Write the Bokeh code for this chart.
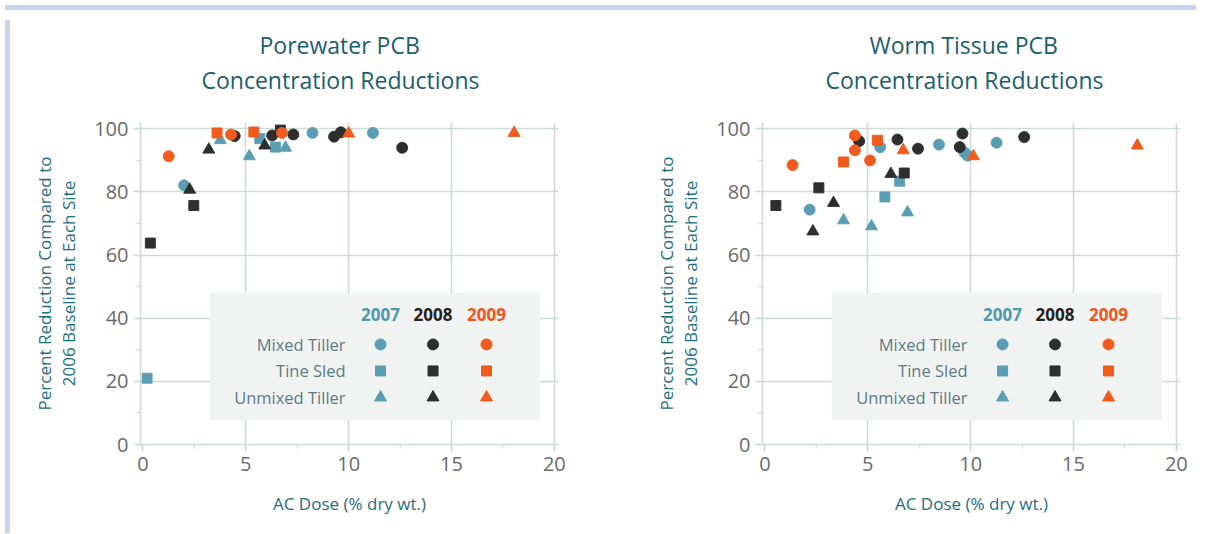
from bokeh.plotting import figure
from bokeh.layouts import row, column
from bokeh.models import Div, Title, SingleIntervalTicker, FixedTicker, ColumnDataSource
from bokeh.core.properties import value
from bokeh.embed import file_html
from bokeh.resources import INLINE

# ---------------- data ----------------
years = ["2007", "2008", "2009"]
methods = ["Mixed Tiller", "Tine Sled", "Unmixed Tiller"]
x_ticks = [0, 5, 10, 15, 20]
y_ticks = [0, 20, 40, 60, 80, 100]

# Porewater PCB: (AC dose, % reduction)
pw_2007_mixed_x = [2.0, 8.24, 11.18]
pw_2007_mixed_y = [82.1, 98.7, 98.7]
pw_2007_tine_x = [0.2, 5.68, 6.44]
pw_2007_tine_y = [21.0, 96.9, 94.2]
pw_2007_unmixed_x = [3.76, 5.17, 6.93]
pw_2007_unmixed_y = [96.4, 91.3, 94.0]
pw_2008_mixed_x = [4.46, 6.28, 7.31, 9.29, 9.62, 12.6]
pw_2008_mixed_y = [97.7, 97.9, 98.2, 97.5, 98.9, 94.0]
pw_2008_tine_x = [0.36, 2.47, 6.68]
pw_2008_tine_y = [63.8, 75.7, 99.6]
pw_2008_unmixed_x = [2.27, 3.2, 5.92]
pw_2008_unmixed_y = [80.7, 93.4, 94.7]
pw_2009_mixed_x = [1.25, 4.28, 6.76]
pw_2009_mixed_y = [91.3, 98.2, 98.7]
pw_2009_tine_x = [3.6, 5.39]
pw_2009_tine_y = [98.7, 99.0]
pw_2009_unmixed_x = [10.0, 18.04]
pw_2009_unmixed_y = [98.5, 98.7]

# Worm tissue PCB
wt_2007_mixed_x = [2.17, 5.6, 8.46, 9.7, 9.85, 11.26]
wt_2007_mixed_y = [74.4, 94.2, 95.0, 92.5, 91.5, 95.6]
wt_2007_tine_x = [5.83, 6.55]
wt_2007_tine_y = [78.4, 83.4]
wt_2007_unmixed_x = [3.82, 5.18, 6.93]
wt_2007_unmixed_y = [71.0, 69.1, 73.5]
wt_2008_mixed_x = [4.58, 6.44, 7.44, 9.47, 9.6, 12.6]
wt_2008_mixed_y = [96.1, 96.6, 93.7, 94.2, 98.5, 97.4]
wt_2008_tine_x = [0.53, 2.62, 6.77]
wt_2008_tine_y = [75.7, 81.3, 86.0]
wt_2008_unmixed_x = [2.33, 3.33, 6.12]
wt_2008_unmixed_y = [67.5, 76.5, 85.7]
wt_2009_mixed_x = [1.34, 4.37, 4.37, 5.11]
wt_2009_mixed_y = [88.5, 97.9, 93.2, 90.0]
wt_2009_tine_x = [3.82, 5.47]
wt_2009_tine_y = [89.5, 96.4]
wt_2009_unmixed_x = [6.72, 10.13, 18.1]
wt_2009_unmixed_y = [93.2, 91.3, 94.7]

porewater = {
    ("2007", "Mixed Tiller"): (pw_2007_mixed_x, pw_2007_mixed_y),
    ("2007", "Tine Sled"): (pw_2007_tine_x, pw_2007_tine_y),
    ("2007", "Unmixed Tiller"): (pw_2007_unmixed_x, pw_2007_unmixed_y),
    ("2008", "Mixed Tiller"): (pw_2008_mixed_x, pw_2008_mixed_y),
    ("2008", "Tine Sled"): (pw_2008_tine_x, pw_2008_tine_y),
    ("2008", "Unmixed Tiller"): (pw_2008_unmixed_x, pw_2008_unmixed_y),
    ("2009", "Mixed Tiller"): (pw_2009_mixed_x, pw_2009_mixed_y),
    ("2009", "Tine Sled"): (pw_2009_tine_x, pw_2009_tine_y),
    ("2009", "Unmixed Tiller"): (pw_2009_unmixed_x, pw_2009_unmixed_y),
}
worm = {
    ("2007", "Mixed Tiller"): (wt_2007_mixed_x, wt_2007_mixed_y),
    ("2007", "Tine Sled"): (wt_2007_tine_x, wt_2007_tine_y),
    ("2007", "Unmixed Tiller"): (wt_2007_unmixed_x, wt_2007_unmixed_y),
    ("2008", "Mixed Tiller"): (wt_2008_mixed_x, wt_2008_mixed_y),
    ("2008", "Tine Sled"): (wt_2008_tine_x, wt_2008_tine_y),
    ("2008", "Unmixed Tiller"): (wt_2008_unmixed_x, wt_2008_unmixed_y),
    ("2009", "Mixed Tiller"): (wt_2009_mixed_x, wt_2009_mixed_y),
    ("2009", "Tine Sled"): (wt_2009_tine_x, wt_2009_tine_y),
    ("2009", "Unmixed Tiller"): (wt_2009_unmixed_x, wt_2009_unmixed_y),
}

# ---------------- styles ----------------
FONT = "Open Sans"
YEAR_COLORS = {"2007": "#5a9db2", "2008": "#2e2e2e", "2009": "#f25a1e"}
YEAR_HEAD_COLORS = {"2007": "#4f98ae", "2008": "#222222", "2009": "#f0561c"}
MARKERS = {"Mixed Tiller": "circle", "Tine Sled": "square", "Unmixed Tiller": "triangle"}
SIZES = {"Mixed Tiller": 11, "Tine Sled": 10, "Unmixed Tiller": 12}
GRID = "#cddbd7"
TITLE_C = "#1b5e6f"
AXLAB_C = "#1e6e80"
TICK_C = "#6a6a6a"
LEG_TXT = "#5d7b82"
LEG_BG = "#f1f3f2"
BAND = "#c6d5ec"


def make_plot(title_lines, title_offsets, data, mb_left, mb_right):
    p = figure(
        x_range=(-0.12, 20.2), y_range=(0, 102),
        frame_width=418, frame_height=322,
        min_border_left=mb_left, min_border_right=mb_right,
        min_border_top=107, min_border_bottom=84,
        output_backend="svg", toolbar_location=None,
        background_fill_color="white", border_fill_color="white",
        outline_line_color=None,
    )
    p.xaxis.ticker = SingleIntervalTicker(interval=5, num_minor_ticks=2)
    p.yaxis.ticker = SingleIntervalTicker(interval=20, num_minor_ticks=2)
    p.xgrid.ticker = FixedTicker(ticks=x_ticks[1:])
    p.ygrid.ticker = FixedTicker(ticks=y_ticks[1:])
    for g in (p.xgrid, p.ygrid):
        g.grid_line_color = GRID
        g.grid_line_width = 1.6
    for ax in (p.xaxis, p.yaxis):
        ax.axis_line_color = GRID
        ax.axis_line_width = 1.6
        ax.major_tick_line_color = GRID
        ax.major_tick_line_width = 1.6
        ax.minor_tick_line_color = GRID
        ax.minor_tick_line_width = 1.4
        ax.major_tick_in = 0
        ax.major_tick_out = 7
        ax.minor_tick_in = 0
        ax.minor_tick_out = 4
        ax.major_label_text_font = FONT
        ax.major_label_text_font_size = "20px"
        ax.major_label_text_color = TICK_C
        ax.axis_label_text_font = FONT
        ax.axis_label_text_font_style = "normal"
        ax.axis_label_text_color = AXLAB_C
        ax.axis_label_text_font_size = "17px"
    p.xaxis.major_label_standoff = 5
    p.yaxis.major_label_standoff = 5
    p.xaxis.axis_label = "AC Dose (% dry wt.)"
    p.xaxis.axis_label_standoff = 18
    p.yaxis.axis_label = "Percent Reduction Compared to\n2006 Baseline at Each Site"
    p.yaxis.axis_label_standoff = 11
    p.yaxis.axis_label_text_line_height = 1.05

    # legend panel (decoration, positioned in data space)
    lx0, lx1, ly0, ly1 = 3.25, 19.3, 7.6, 48.1
    col_x = [11.55, 14.1, 16.7]
    head_y = 41.1
    row_y = [31.7, 23.3, 14.9]
    lab_x = 9.85
    p.quad(left=[lx0], right=[lx1], bottom=[ly0], top=[ly1],
           fill_color=LEG_BG, line_color=None)
    p.text(x=col_x, y=[head_y] * 3, text=years,
           text_color=[YEAR_HEAD_COLORS[yv] for yv in years],
           text_font=value(FONT), text_font_style="bold", text_font_size="17px",
           text_align="center", text_baseline="middle")
    p.text(x=[lab_x] * 3, y=row_y, text=methods,
           text_color=LEG_TXT, text_font=value(FONT), text_font_size="16.5px",
           text_align="right", text_baseline="middle")
    for i, yr in enumerate(years):
        for j, m in enumerate(methods):
            p.scatter(x=[col_x[i]], y=[row_y[j]], marker=MARKERS[m], size=SIZES[m],
                      fill_color=YEAR_COLORS[yr], line_color=YEAR_COLORS[yr])

    # data points
    for yr in years:
        for m in methods:
            xs, ys = data[(yr, m)]
            src = ColumnDataSource(dict(x=xs, y=ys))
            p.scatter("x", "y", source=src, marker=MARKERS[m], size=SIZES[m],
                      fill_color=YEAR_COLORS[yr], line_color=YEAR_COLORS[yr],
                      line_alpha=0.9)

    # spacer + two-line title (first added sits closest to the plot)
    p.add_layout(Title(text=" ", text_font_size="2px", standoff=23), "above")
    p.add_layout(Title(text=title_lines[1], align="left", offset=title_offsets[1],
                       text_font=FONT, text_font_size="23px",
                       text_font_style="normal", text_color=TITLE_C,
                       text_line_height=1.0, standoff=0), "above")
    p.add_layout(Title(text=title_lines[0], align="left", offset=title_offsets[0],
                       text_font=FONT, text_font_size="23px",
                       text_font_style="normal", text_color=TITLE_C,
                       text_line_height=1.0, standoff=2), "above")
    return p


p1 = make_plot(["Porewater PCB", "Concentration Reductions"], [119, 61], porewater, 125, 79)
p2 = make_plot(["Worm Tissue PCB", "Concentration Reductions"], [107, 63], worm, 125, 21)

top_band = Div(text="", width=1191, height=5, styles={"background-color": BAND})
left_band = Div(text="", width=5, height=513, styles={"background-color": BAND})
layout = column(top_band, row(left_band, p1, p2, spacing=0), spacing=0)

open("out.html", "w").write(file_html(layout, INLINE))
